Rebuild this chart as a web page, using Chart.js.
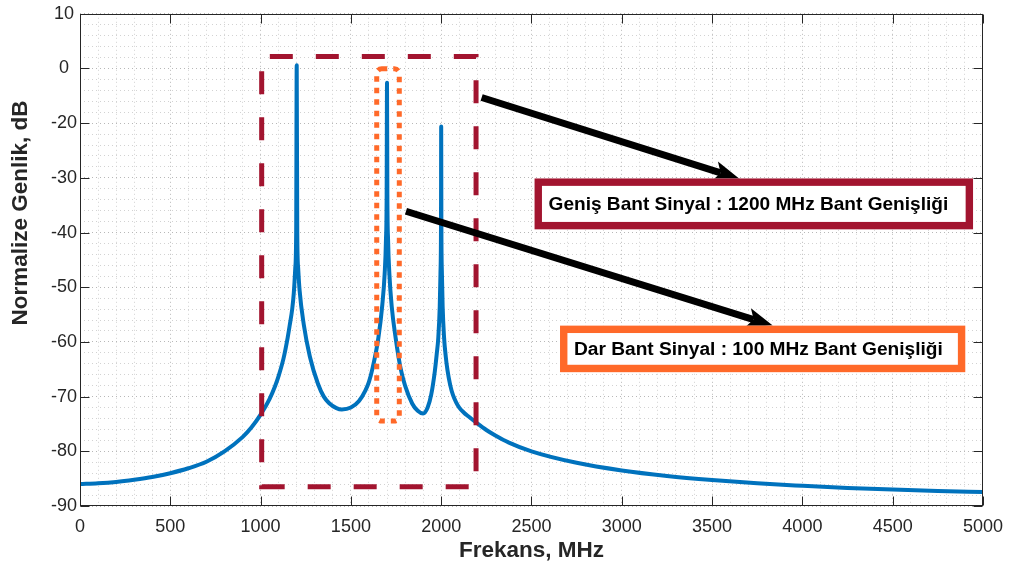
<!DOCTYPE html>
<html><head><meta charset="utf-8">
<script src="https://cdn.jsdelivr.net/npm/chart.js@4"></script>
<style>html,body{margin:0;padding:0;background:#fff}canvas{display:block}</style>
</head><body>
<canvas id="c" width="1013" height="572"></canvas>
<script>
// ---- data (y in axis units, labels as printed) ----
const FREQ_MHZ = [0,100,200,300,400,500,600,700,800,900,950,1000,1050,1080,1100,1127,1150,1161,1175,1184,1192,1197,1200,1203,1208,1216,1239,1273,1317,1350,1380,1420,1450,1500,1545,1580,1600,1620,1652,1674,1687,1694,1698,1700,1702,1706,1713,1726,1748,1775,1800,1840,1870,1900,1925,1945,1965,1975,1984,1992,1996,1999,2000,2001,2004,2008,2016,2025,2035,2050,2065,2082,2100,2125,2150,2200,2250,2300,2375,2500,2750,3000,3250,3500,3750,4000,4250,4500,4750,5000];
const LEVEL_DB = [-86.0,-85.85,-85.6,-85.2,-84.7,-84.0,-83.1,-81.9,-80.0,-77.4,-75.6,-73.3,-70.4,-68.1,-66.2,-63.0,-59.2,-57.0,-54.0,-51.0,-46.5,-40,-9.4,-40,-46.5,-50.6,-56.8,-62.7,-67.6,-70.0,-71.2,-72.1,-72.35,-72.0,-70.8,-68.9,-67.3,-64.8,-59.3,-53.2,-47.5,-41.5,-33,-12.6,-33,-41.5,-47.5,-53.5,-59.3,-64.8,-68.0,-71.3,-72.6,-73.1,-72.0,-69.6,-65.3,-62.3,-59.2,-53.5,-47.5,-38,-20.6,-38,-47.5,-53.5,-59.2,-62.6,-65.2,-67.9,-69.7,-71.0,-72.0,-72.9,-73.6,-74.9,-76.1,-77.1,-78.4,-80.0,-82.1,-83.5,-84.5,-85.25,-85.85,-86.3,-86.7,-87.0,-87.25,-87.45];
const X_TICK_VALUES = [0,500,1000,1500,2000,2500,3000,3500,4000,4500,5000];
const Y_TICK_VALUES = [0,-10,-20,-30,-40,-50,-60,-70,-80,-90];
const Y_TICK_LABELS = ['10','0','-20','-30','-40','-50','-60','-70','-80','-90'];
const X_TITLE = 'Frekans, MHz';
const Y_TITLE = 'Normalize Genlik, dB';
const WIDE_TEXT = 'Geniş Bant Sinyal : 1200 MHz Bant Genişliği';
const NARROW_TEXT = 'Dar Bant Sinyal : 100 MHz Bant Genişliği';

// ---- annotation geometry (data units) ----
const WIDE_BOX = {x1:1006, x2:2193, y1:-7.8, y2:-86.5};
const NARROW_BOX = {x1:1643, x2:1768, y1:-10.07, y2:-74.46};
const ARROWS = [
  {x1:2224, y1:-15.3, x2:3653, y2:-30.2},
  {x1:1805, y1:-36.1, x2:3836, y2:-57.0}
];
const TEXT_BOXES = [
  {text:WIDE_TEXT, x1:2517, x2:4945, y1:-30.11, y2:-39.41, color:'#A2142F', textW:400},
  {text:NARROW_TEXT, x1:2658, x2:4902, y1:-57.02, y2:-65.53, color:'#FF6929', textW:369}
];

const FONT = '"Liberation Sans", Arial, Helvetica, sans-serif';
const AXIS_COLOR = '#262626';

function arrow(ctx, x1, y1, x2, y2) {
  const a = Math.atan2(y2 - y1, x2 - x1), c = Math.cos(a), s = Math.sin(a);
  const hl = 26, hw = 10, notch = 20;
  ctx.save();
  ctx.strokeStyle = '#000'; ctx.fillStyle = '#000';
  ctx.lineWidth = 7; ctx.lineCap = 'butt';
  ctx.beginPath(); ctx.moveTo(x1, y1); ctx.lineTo(x2 - c*notch, y2 - s*notch); ctx.stroke();
  ctx.beginPath();
  ctx.moveTo(x2, y2);
  ctx.lineTo(x2 - c*hl - s*hw, y2 - s*hl + c*hw);
  ctx.lineTo(x2 - c*notch, y2 - s*notch);
  ctx.lineTo(x2 - c*hl + s*hw, y2 - s*hl - c*hw);
  ctx.closePath(); ctx.fill();
  ctx.restore();
}

const decor = {
  id: 'decor',
  afterDatasetsDraw(chart) {
    const ctx = chart.ctx, xs = chart.scales.x, ys = chart.scales.y;
    const X = v => xs.getPixelForValue(v), Y = v => ys.getPixelForValue(v);
    ctx.save();
    ctx.strokeStyle = '#A2142F'; ctx.lineWidth = 5; ctx.lineCap = 'butt';
    ctx.setLineDash([23, 23]);
    let l = X(WIDE_BOX.x1), r = X(WIDE_BOX.x2), t = Y(WIDE_BOX.y1), b = Y(WIDE_BOX.y2);
    ctx.beginPath(); ctx.moveTo(l, b); ctx.lineTo(r, b); ctx.lineTo(r, t); ctx.lineTo(l, t); ctx.closePath(); ctx.stroke();
    ctx.strokeStyle = '#FF6929'; ctx.lineWidth = 5;
    ctx.setLineDash([5.5, 6]);
    l = X(NARROW_BOX.x1); r = X(NARROW_BOX.x2); t = Y(NARROW_BOX.y1); b = Y(NARROW_BOX.y2);
    ctx.beginPath(); ctx.roundRect(l, t, r - l, b - t, 5); ctx.stroke();
    ctx.setLineDash([]);
    ARROWS.forEach(a => arrow(ctx, X(a.x1), Y(a.y1), X(a.x2), Y(a.y2)));
    TEXT_BOXES.forEach(tb => {
      const L = X(tb.x1), R = X(tb.x2), T = Y(tb.y1), B = Y(tb.y2), bw = 7.4;
      ctx.fillStyle = '#fff'; ctx.fillRect(L, T, R - L, B - T);
      ctx.strokeStyle = tb.color; ctx.lineWidth = bw;
      ctx.strokeRect(L + bw/2, T + bw/2, R - L - bw, B - T - bw);
      ctx.font = 'bold 17px ' + FONT;
      const w = ctx.measureText(tb.text).width;
      const size = 17 * tb.textW / w;
      ctx.font = 'bold ' + size.toFixed(2) + 'px ' + FONT;
      ctx.fillStyle = '#000'; ctx.textAlign = 'left'; ctx.textBaseline = 'middle';
      ctx.fillText(tb.text, L + 14, (T + B) / 2 + 1);
    });
    ctx.restore();
  },
  afterDraw(chart) {
    const ctx = chart.ctx, a = chart.chartArea, xs = chart.scales.x, ys = chart.scales.y;
    ctx.save();
    ctx.strokeStyle = AXIS_COLOR; ctx.lineWidth = 1;
    const L = Math.round(a.left) + 0.5, R = Math.round(a.right) - 0.5, T = Math.round(a.top) + 0.5, B = Math.round(a.bottom) - 0.5;
    ctx.strokeRect(L, T, R - L, B - T);
    const tl = 9;
    ctx.beginPath();
    X_TICK_VALUES.forEach(v => {
      const px = Math.round(xs.getPixelForValue(v)) + 0.5;
      ctx.moveTo(px, B); ctx.lineTo(px, B - tl);
      ctx.moveTo(px, T); ctx.lineTo(px, T + tl);
    });
    Y_TICK_VALUES.forEach(v => {
      const py = Math.round(ys.getPixelForValue(v)) + 0.5;
      ctx.moveTo(L, py); ctx.lineTo(L + tl, py);
      ctx.moveTo(R, py); ctx.lineTo(R - tl, py);
    });
    ctx.stroke();
    ctx.fillStyle = '#262626';
    ctx.font = 'bold 22.5px ' + FONT;
    ctx.textAlign = 'center'; ctx.textBaseline = 'middle';
    ctx.fillText(X_TITLE, (a.left + a.right) / 2, 551);
    ctx.translate(21, 213); ctx.rotate(-Math.PI / 2);
    ctx.fillText(Y_TITLE, 0, 0);
    ctx.restore();
  }
};

const points = FREQ_MHZ.map((f, i) => ({x: f, y: LEVEL_DB[i]}));
const gridColor = ctx => (Math.round(ctx.tick.value) % (ctx.scale.axis === 'x' ? 500 : 10) === 0) ? '#b8b8b8' : '#d2d2d2';

new Chart(document.getElementById('c'), {
  type: 'line',
  data: { datasets: [{
    data: points, borderColor: '#0072BD', borderWidth: 4, pointRadius: 0,
    cubicInterpolationMode: 'monotone', fill: false,
    borderJoinStyle: 'round', borderCapStyle: 'round'
  }]},
  options: {
    responsive: false, animation: false, events: [],
    layout: { padding: { left: 0, right: 27, top: 12, bottom: 0 } },
    plugins: { legend: { display: false }, tooltip: { enabled: false } },
    scales: {
      x: {
        type: 'linear', min: 0, max: 5000,
        grid: { color: gridColor, lineWidth: 1, drawTicks: false },
        border: { display: false, dash: [1, 3] },
        ticks: {
          stepSize: 100, autoSkip: false, maxRotation: 0, minRotation: 0, padding: 10,
          color: AXIS_COLOR, font: { family: FONT, size: 18 },
          callback: v => (X_TICK_VALUES.includes(Math.round(v)) ? String(Math.round(v)) : '')
        },
        afterFit: s => { s.height = 66; }
      },
      y: {
        type: 'linear', min: -90, max: 0,
        grid: { color: gridColor, lineWidth: 1, drawTicks: false },
        border: { display: false, dash: [1, 3] },
        ticks: {
          stepSize: 2, autoSkip: false, padding: 3, crossAlign: 'center',
          color: AXIS_COLOR, font: { family: FONT, size: 18 },
          callback: v => { const i = Y_TICK_VALUES.indexOf(Math.round(v)); return i >= 0 ? Y_TICK_LABELS[i] : ''; }
        },
        afterFit: s => { s.width = 80; }
      }
    }
  },
  plugins: [decor]
});
</script>
</body></html>
